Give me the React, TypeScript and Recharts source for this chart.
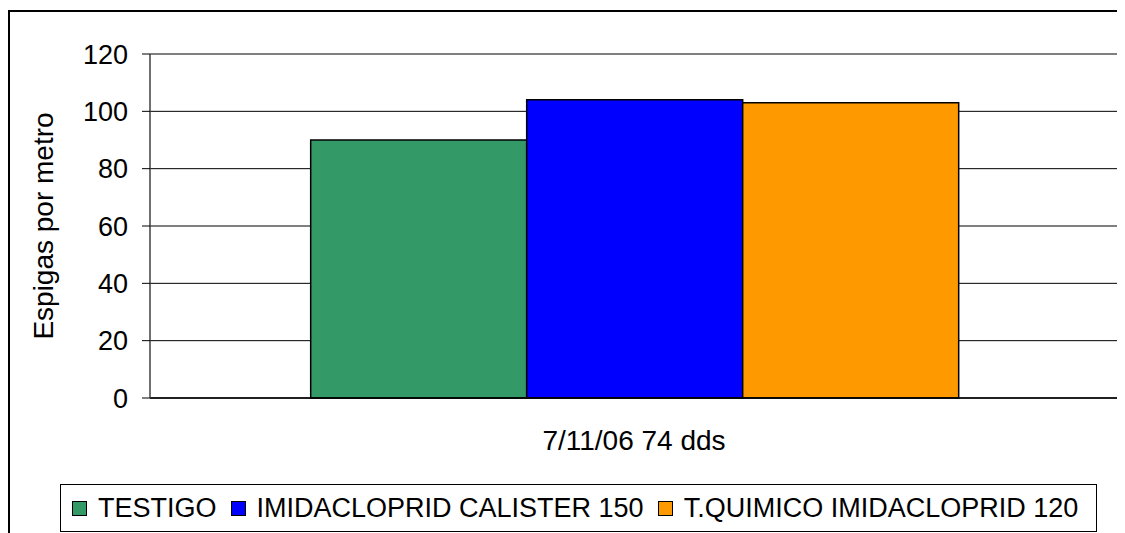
import { BarChart, Bar, XAxis, YAxis, CartesianGrid, ReferenceLine } from 'recharts';

const categories = ['7/11/06 74 dds'];
const seriesNames = ['TESTIGO', 'IMIDACLOPRID CALISTER 150', 'T.QUIMICO IMIDACLOPRID 120'];
const testigo = [90];
const calister = [104];
const quimico = [103];
const yTicks = [0, 20, 40, 60, 80, 100, 120];

const colors = ['#339966', '#0000ff', '#ff9900'];
const keys = ['testigo', 'calister', 'quimico'];

const data = categories.map((name, i) => ({
  name,
  testigo: testigo[i],
  calister: calister[i],
  quimico: quimico[i],
}));

const font = '"Liberation Sans", Arial, sans-serif';

export default function App() {
  return (
    <div style={{ position: 'relative', width: 1117, height: 525, fontFamily: font }}>
      <div
        style={{
          position: 'absolute',
          left: 0,
          top: 2,
          right: 0,
          bottom: 0,
          borderLeft: '2px solid #000',
          borderTop: '2px solid #000',
        }}
      />
      <div style={{ position: 'absolute', left: 0, top: 0 }}>
        <BarChart
          width={1117}
          height={525}
          data={data}
          margin={{ top: 46, right: 7, left: 0, bottom: 75 }}
          barCategoryGap="16.6%"
          barGap={0}
        >
          <CartesianGrid vertical={false} stroke="#000" strokeWidth={1} />
          <ReferenceLine y={120} stroke="#808080" strokeWidth={1.5} />
          <XAxis
            dataKey="name"
            stroke="#000"
            strokeWidth={1.5}
            tickLine={false}
            tickSize={0}
            tickMargin={32}
            height={60}
            tick={{ fill: '#000', fontSize: 28, fontFamily: font }}
          />
          <YAxis
            domain={[0, 120]}
            ticks={yTicks}
            width={142}
            stroke="#404040"
            strokeWidth={1.5}
            tickSize={8}
            tickMargin={14}
            tickLine={{ stroke: '#000', strokeWidth: 1 }}
            tick={{ fill: '#000', fontSize: 27, fontFamily: font }}
            label={{
              value: 'Espigas por metro',
              angle: -90,
              position: 'insideLeft',
              offset: 35,
              fill: '#000',
              fontSize: 28,
              fontFamily: font,
              style: { textAnchor: 'middle' },
            }}
          />
          <YAxis
            yAxisId="right"
            orientation="right"
            width={0}
            tick={false}
            tickLine={false}
            stroke="#808080"
            strokeWidth={1.5}
          />
          {keys.map((k, i) => (
            <Bar
              key={k}
              dataKey={k}
              name={seriesNames[i]}
              fill={colors[i]}
              stroke="#000"
              strokeWidth={1.5}
              isAnimationActive={false}
            />
          ))}
        </BarChart>
      </div>
      <div
        style={{
          position: 'absolute',
          left: 52,
          top: 476,
          width: 1037,
          height: 48,
          boxSizing: 'border-box',
          border: '1px solid #000',
          display: 'flex',
          alignItems: 'center',
          paddingLeft: 11,
          fontSize: 27,
          color: '#000',
          whiteSpace: 'nowrap',
        }}
      >
        {seriesNames.map((n, i) => (
          <div key={n} style={{ display: 'flex', alignItems: 'center', marginRight: 14 }}>
            <span
              style={{
                display: 'inline-block',
                width: 13,
                height: 13,
                background: colors[i],
                border: '1px solid #000',
                marginRight: 11,
              }}
            />
            <span>{n}</span>
          </div>
        ))}
      </div>
    </div>
  );
}
